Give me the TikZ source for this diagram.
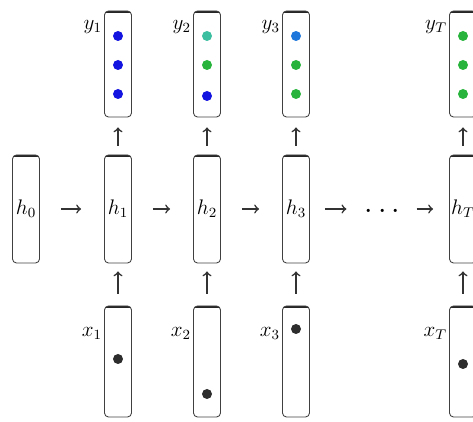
\documentclass[tikz,border=0pt]{standalone}
\usepackage{xcolor}
\usepackage{amsmath}
\usepackage{tikz}
\usetikzlibrary{positioning}

\definecolor{dotblue}{RGB}{20,20,225}
\definecolor{dotteal}{RGB}{60,190,160}
\definecolor{dotgreen}{RGB}{40,180,60}
\definecolor{dotazure}{RGB}{30,120,220}
\definecolor{dotgray}{RGB}{45,45,45}

\tikzset{
  cell/.style={draw=black!75, line width=0.5pt, rectangle, rounded corners=0.08cm,
    minimum width=0.54cm, inner sep=0pt, font=\large,
    path picture={\draw[black!85, line width=2pt] (path picture bounding box.north west) -- (path picture bounding box.north east);}},
  hcell/.style={cell, minimum height=2.16cm},
  ycell/.style={cell, minimum height=2.12cm},
  xcell/.style={cell, minimum height=2.22cm},
  lbl/.style={font=\large, inner sep=1pt},
  arr/.style={->, line width=0.9pt, black!80},
  harr/.style={arr, shorten <=0.42cm, shorten >=0.46cm},
  yarr/.style={arr, shorten <=0.18cm, shorten >=0.2cm},
  xarr/.style={arr, shorten <=0.24cm, shorten >=0.16cm},
}

\begin{document}
\begin{tikzpicture}[node distance=1.78cm]
    \clip (-0.52,-4.26) rectangle (8.94,4.18);

    % Hidden states
    \node[hcell] (h0) at (0,0) {$h_0$};
    \node[hcell, right of=h0, xshift=0.06cm] (h1) {$h_1$};
    \node[hcell, right of=h1] (h2) {$h_2$};
    \node[hcell, right of=h2] (h3) {$h_3$};
    \node[font=\LARGE, inner sep=0pt, right of=h3, yshift=-0.06cm] (hdots) {$\cdots$};
    \node[hcell, right of=hdots, xshift=-0.22cm, yshift=0.06cm] (hT) {$h_T$};

    % Outputs
    \node[ycell, above of=h1, yshift=1.12cm] (y1) {};
    \node[ycell, above of=h2, yshift=1.12cm] (y2) {};
    \node[ycell, above of=h3, yshift=1.12cm] (y3) {};
    \node[ycell, above of=hT, yshift=1.12cm] (yT) {};

    % Inputs
    \node[xcell, below of=h1, yshift=-1.27cm] (x1) {};
    \node[xcell, below of=h2, yshift=-1.27cm] (x2) {};
    \node[xcell, below of=h3, yshift=-1.27cm] (x3) {};
    \node[xcell, below of=hT, yshift=-1.27cm] (xT) {};

    % Labels
    \node[lbl, left=0pt of y1.north west, yshift=-0.32cm] (ly1) {$y_1$};
    \node[lbl, left=0pt of y2.north west, yshift=-0.32cm] (ly2) {$y_2$};
    \node[lbl, left=0pt of y3.north west, yshift=-0.32cm] (ly3) {$y_3$};
    \node[lbl, left=0pt of yT.north west, yshift=-0.32cm] (lyT) {$y_T$};
    \node[lbl, left=0pt of x1.north west, yshift=-0.56cm] (lx1) {$x_1$};
    \node[lbl, left=0pt of x2.north west, yshift=-0.56cm] (lx2) {$x_2$};
    \node[lbl, left=0pt of x3.north west, yshift=-0.56cm] (lx3) {$x_3$};
    \node[lbl, left=0pt of xT.north west, yshift=-0.56cm] (lxT) {$x_T$};

    % Output dots
    \fill[dotblue] ([yshift=0.56cm]y1.center) circle (0.1cm);
    \fill[dotblue] ([yshift=-0.02cm]y1.center) circle (0.1cm);
    \fill[dotblue] ([yshift=-0.6cm]y1.center) circle (0.1cm);
    \fill[dotteal] ([yshift=0.56cm]y2.center) circle (0.1cm);
    \fill[dotgreen] ([yshift=-0.02cm]y2.center) circle (0.1cm);
    \fill[dotblue] ([yshift=-0.64cm]y2.center) circle (0.1cm);
    \fill[dotazure] ([yshift=0.56cm]y3.center) circle (0.1cm);
    \fill[dotgreen] ([yshift=-0.02cm]y3.center) circle (0.1cm);
    \fill[dotgreen] ([yshift=-0.6cm]y3.center) circle (0.1cm);
    \fill[dotgreen] ([yshift=0.56cm]yT.center) circle (0.1cm);
    \fill[dotgreen] ([yshift=-0.02cm]yT.center) circle (0.1cm);
    \fill[dotgreen] ([yshift=-0.6cm]yT.center) circle (0.1cm);

    % Input dots
    \fill[dotgray] ([yshift=0.05cm]x1.center) circle (0.1cm);
    \fill[dotgray] ([yshift=-0.65cm]x2.center) circle (0.1cm);
    \fill[dotgray] ([yshift=0.65cm]x3.center) circle (0.1cm);
    \fill[dotgray] ([yshift=-0.05cm]xT.center) circle (0.1cm);

    % Arrows
    \draw[harr] (h0) -- (h1);
    \draw[harr] (h1) -- (h2);
    \draw[harr] (h2) -- (h3);
    \draw[arr, shorten <=0.3cm, shorten >=0.36cm] (h3) -- (h3 -| hdots.west);
    \draw[arr, shorten <=0.22cm, shorten >=0.32cm] (hT -| hdots.east) -- (hT);
    \draw[yarr] (h1) -- (y1);
    \draw[yarr] (h2) -- (y2);
    \draw[yarr] (h3) -- (y3);
    \draw[yarr] (hT) -- (yT);
    \draw[xarr] (x1) -- (h1);
    \draw[xarr] (x2) -- (h2);
    \draw[xarr] (x3) -- (h3);
    \draw[xarr] (xT) -- (hT);
\end{tikzpicture}
\end{document}
